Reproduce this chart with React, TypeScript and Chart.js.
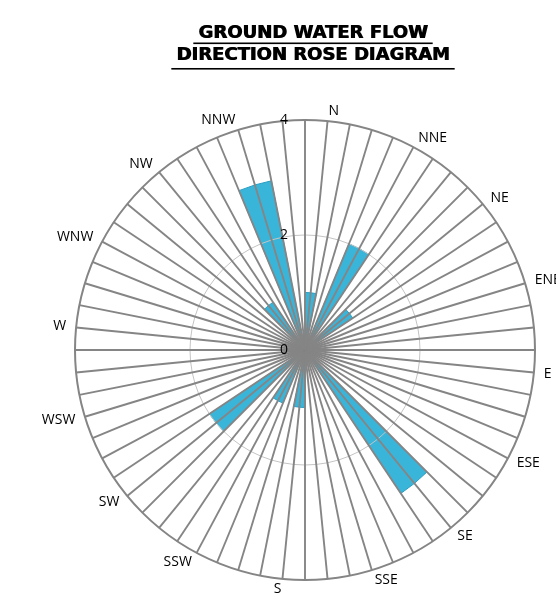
import { useEffect, useRef } from 'react';
import { Chart, registerables } from 'chart.js';

Chart.register(...registerables);

// ---- data ----
const DIRECTIONS = ['N', 'NNE', 'NE', 'ENE', 'E', 'ESE', 'SE', 'SSE', 'S', 'SSW', 'SW', 'WSW', 'W', 'WNW', 'NW', 'NNW'];
const FLOW_COUNTS = [1, 2, 1, 0, 0, 0, 3, 0, 1, 1, 2, 0, 0, 0, 1, 3];
const TICK_VALUES = [0, 2, 4];
const TITLE_LINES = ['GROUND WATER FLOW', 'DIRECTION ROSE DIAGRAM'];

// Each direction occupies 4 spokes of the 64-spoke radar: a petal on 3 spokes, then an empty spoke.
const spokeLabels = DIRECTIONS.flatMap((d) => ['', d, '', '']);
const spokeValues = FLOW_COUNTS.flatMap((v) => [v, v, v, 0]);

// ---- layout / style ----
const CANVAS_W = 626;
const CANVAS_H = 620;
const CX = 305;
const CY = 350;
const RADIUS = 230;
const LABEL_GAP = 10;
const LABEL_SIZE = 14;
const LABEL_LH = 1.2;
const TITLE_SIZE = 18;
const TITLE_LH = 1.194;
const TITLE_PAD_TOP = 22.75;
const UNDERLINE_DROP = [9, 13];
const UNDERLINE_EXT = [5, 5];

// Makes the title look heavier (like Arial Black) and draws its underlines.
const titleStylePlugin = {
  id: 'titleStyle',
  beforeDraw(chart: any) {
    const ctx = chart.ctx;
    ctx.shadowColor = '#000';
    ctx.shadowOffsetX = 0.8;
    ctx.shadowOffsetY = 0;
    ctx.shadowBlur = 0;
  },
  beforeDatasetsDraw(chart: any) {
    const ctx = chart.ctx;
    ctx.shadowColor = 'rgba(0,0,0,0)';
    ctx.shadowOffsetX = 0;
  },
  afterDraw(chart: any) {
    const tb = chart.titleBlock;
    if (!tb) return;
    const ctx = chart.ctx;
    ctx.save();
    ctx.font = `bold ${TITLE_SIZE}px "DejaVu Sans"`;
    ctx.fillStyle = '#000';
    const lh = TITLE_SIZE * TITLE_LH;
    const top = tb.top + TITLE_PAD_TOP;
    const cx = (tb.left + tb.right) / 2;
    TITLE_LINES.forEach((t, i) => {
      const w = ctx.measureText(t).width;
      const y = top + lh * (i + 0.5) + UNDERLINE_DROP[i];
      ctx.fillRect(cx - w / 2 - UNDERLINE_EXT[i], y, w + 2 * UNDERLINE_EXT[i], 1.6);
    });
    ctx.restore();
  },
};

export default function App() {
  const ref = useRef<HTMLCanvasElement | null>(null);

  useEffect(() => {
    if (!ref.current) return;
    const chart = new Chart(ref.current, {
      type: 'radar',
      data: {
        labels: spokeLabels,
        datasets: [
          {
            data: spokeValues,
            backgroundColor: '#3ab5da',
            borderColor: '#2b9dc2',
            borderWidth: 1,
            pointRadius: 0,
            pointHoverRadius: 0,
            fill: true,
            tension: 0,
          },
        ],
      },
      options: {
        responsive: false,
        animation: false,
        events: [],
        layout: { padding: 0 },
        plugins: {
          legend: { display: false },
          tooltip: { enabled: false },
          title: {
            display: true,
            text: TITLE_LINES,
            color: '#000',
            align: 'center',
            font: { family: '"DejaVu Sans"', size: TITLE_SIZE, weight: 'bold', lineHeight: TITLE_LH },
            padding: { top: TITLE_PAD_TOP, bottom: 10 },
          },
        },
        scales: {
          r: {
            min: -0.000001,
            max: 4,
            startAngle: 0,
            afterBuildTicks: (scale: any) => {
              scale.ticks = TICK_VALUES.map((value) => ({ value }));
            },
            afterFit: (scale: any) => {
              scale.xCenter = CX;
              scale.yCenter = CY;
              scale.drawingArea = RADIUS;
              const ctx = scale.ctx;
              ctx.save();
              ctx.font = `${LABEL_SIZE}px "Open Sans"`;
              const lh = LABEL_SIZE * LABEL_LH;
              scale._pointLabelItems = scale._pointLabels.map((text: string, i: number) => {
                const a = scale.getIndexAngle(i);
                const s = Math.sin(a);
                const c = Math.cos(a);
                const x = CX + (RADIUS + LABEL_GAP) * s;
                const yMid = CY - (RADIUS + LABEL_GAP) * c;
                const w = ctx.measureText(text).width;
                const textAlign = Math.abs(s) < 1e-6 ? 'center' : s > 0 ? 'left' : 'right';
                const left = textAlign === 'left' ? x : textAlign === 'right' ? x - w : x - w / 2;
                return {
                  visible: true,
                  x,
                  y: yMid - lh / 2,
                  textAlign,
                  left,
                  top: yMid - lh / 2,
                  right: left + w,
                  bottom: yMid + lh / 2,
                };
              });
              ctx.restore();
            },
            grid: {
              z: 1,
              circular: true,
              color: (ctx: any) =>
                ctx.tick && ctx.tick.value === 4 ? '#858585' : ctx.tick && ctx.tick.value === 2 ? '#c4c4c4' : 'rgba(0,0,0,0)',
              lineWidth: (ctx: any) => (ctx.tick && ctx.tick.value === 4 ? 2 : 1),
            },
            angleLines: { display: true, color: '#858585', lineWidth: 1.9 },
            pointLabels: {
              display: true,
              color: '#000',
              padding: 0,
              font: { family: '"Open Sans"', size: LABEL_SIZE, lineHeight: LABEL_LH },
            },
            ticks: {
              z: 1,
              display: true,
              showLabelBackdrop: false,
              color: '#000',
              font: { family: '"Open Sans"', size: 14 },
              callback: (v: any) => `${v}\u2003\u2003\u2003`,
            },
          },
        },
      },
      plugins: [titleStylePlugin],
    } as any);
    return () => chart.destroy();
  }, []);

  return (
    <div
      style={{
        position: 'fixed',
        left: 0,
        top: 0,
        width: 556,
        height: 593,
        overflow: 'hidden',
        background: '#fff',
      }}
    >
      <canvas
        ref={ref}
        width={CANVAS_W}
        height={CANVAS_H}
        style={{ position: 'absolute', left: 0, top: 0, width: CANVAS_W, height: CANVAS_H }}
      />
    </div>
  );
}
